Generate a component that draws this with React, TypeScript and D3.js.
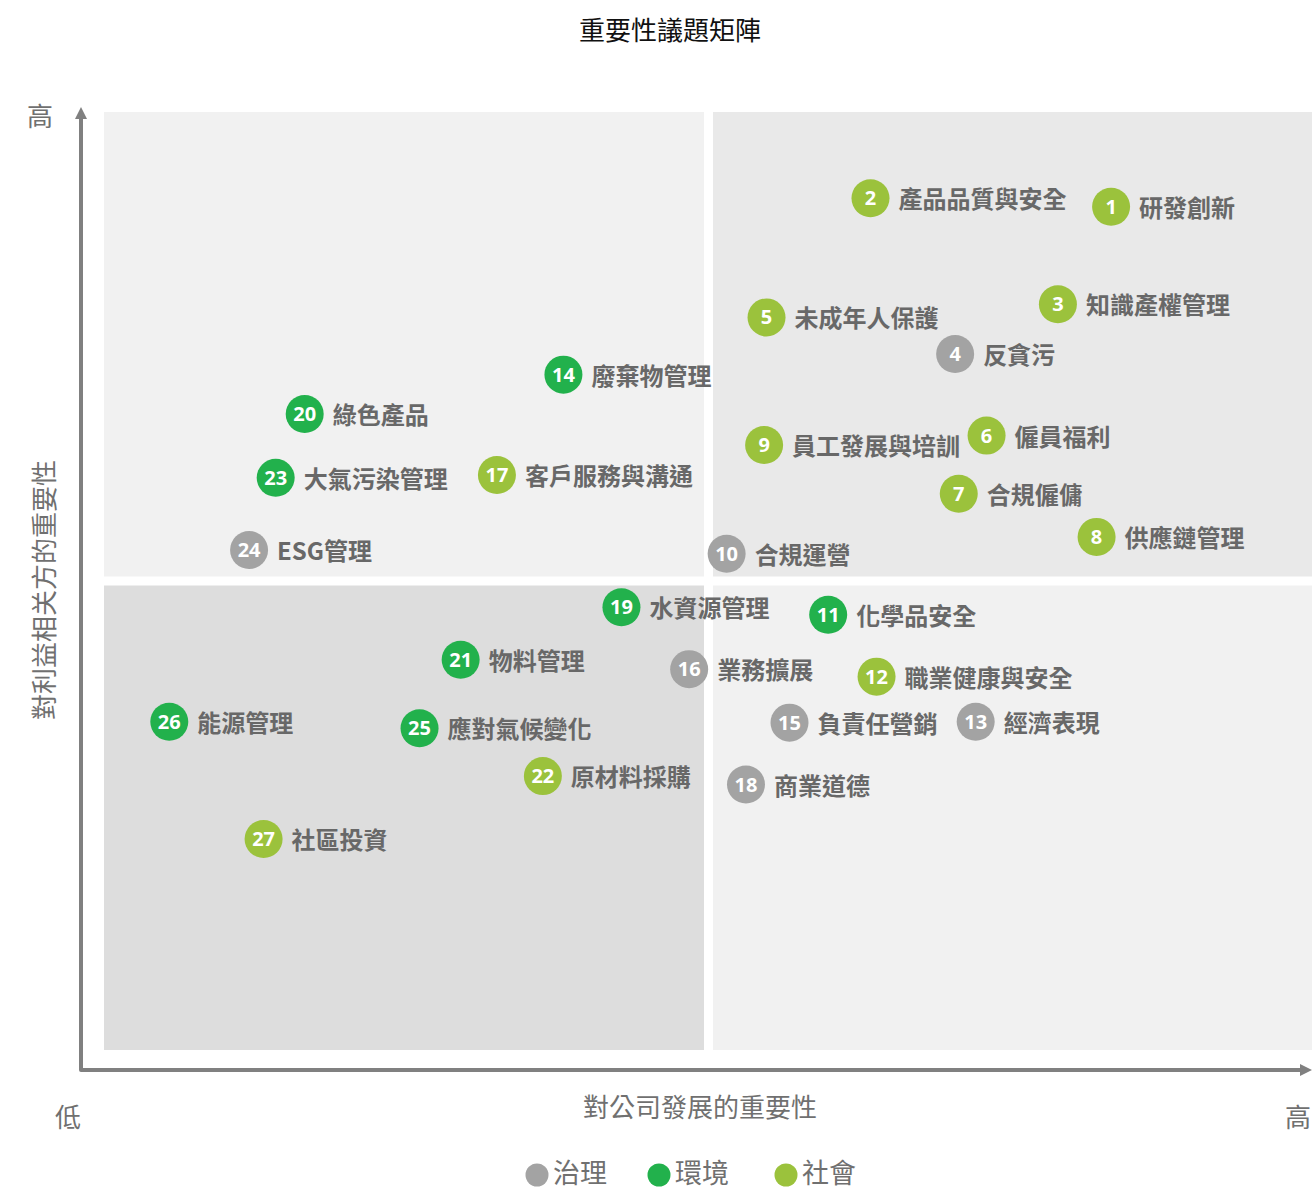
import React from "react";
import * as d3 from "d3";

// issue number, label, category, importance to company (x), importance to stakeholders (y)
const ids = [1, 2, 3, 4, 5, 6, 7, 8, 9, 10, 11, 12, 13, 14, 15, 16, 17, 18, 19, 20, 21, 22, 23, 24, 25, 26, 27];
const labels = [
  "研發創新", "產品品質與安全", "知識產權管理", "反貪污", "未成年人保護", "僱員福利", "合規僱傭",
  "供應鏈管理", "員工發展與培訓", "合規運營", "化學品安全", "職業健康與安全", "經濟表現", "廢棄物管理",
  "負責任營銷", "業務擴展", "客戶服務與溝通", "商業道德", "水資源管理", "綠色產品", "物料管理",
  "原材料採購", "大氣污染管理", "ESG管理", "應對氣候變化", "能源管理", "社區投資",
];
const groups = [
  "社會", "社會", "社會", "治理", "社會", "社會", "社會", "社會", "社會", "治理", "環境", "社會", "治理", "環境",
  "治理", "治理", "社會", "治理", "環境", "環境", "環境", "社會", "環境", "治理", "環境", "環境", "社會",
];
const xValues = [
  83.3, 63.4, 78.9, 70.4, 54.8, 73.0, 70.7, 82.1, 54.6, 51.5, 59.9, 63.9, 72.1, 38.0,
  56.7, 48.4, 32.5, 53.1, 42.8, 16.6, 29.5, 36.3, 14.2, 12.0, 26.1, 5.4, 13.2,
];
const yValues = [
  89.9, 90.8, 79.5, 74.2, 78.1, 65.5, 59.3, 54.7, 64.5, 52.9, 46.4, 39.8, 35.0, 72.0,
  34.9, 40.6, 61.3, 28.3, 47.2, 67.8, 41.6, 29.2, 61.0, 53.3, 34.3, 35.0, 22.5,
];
const legendItems = ["治理", "環境", "社會"];
const groupColors = ["#a3a3a3", "#22b14c", "#9bc23c"];

const W = 1312;
const H = 1190;
const CJK = "'Noto Sans CJK TC', 'Noto Sans CJK SC', sans-serif";

export default function App() {
  const x = d3.scaleLinear().domain([0, 100]).range([104, 1313]);
  const y = d3.scaleLinear().domain([0, 100]).range([1050, 112]);
  const color = d3.scaleOrdinal<string, string>().domain(legendItems).range(groupColors);

  // quadrants, separated by a thin white gap at the mid value
  const gap = 4.5;
  const mx = x(50);
  const my = y(50);
  const quads = [
    { x0: x(0), x1: mx - gap, y0: y(100), y1: my - gap, fill: "#f1f1f1" },
    { x0: mx + gap, x1: x(100), y0: y(100), y1: my - gap, fill: "#e9e9e9" },
    { x0: x(0), x1: mx - gap, y0: my + gap, y1: y(0), fill: "#dddddd" },
    { x0: mx + gap, x1: x(100), y0: my + gap, y1: y(0), fill: "#f1f1f1" },
  ];

  const axisX = 81;
  const axisY = 1070;
  const axisColor = "#808080";

  const points = ids.map((id, i) => ({
    id,
    label: labels[i],
    group: groups[i],
    cx: x(xValues[i]),
    cy: y(yValues[i]),
  }));

  const legendX = [537, 659, 786];

  return (
    <svg width={W} height={H} style={{ position: "absolute", left: 0, top: 0, background: "#fff" }}>
      <text x={670} y={40} textAnchor="middle" fontFamily={CJK} fontSize={26} fill="#111">
        重要性議題矩陣
      </text>

      {quads.map((q, i) => (
        <rect key={i} x={q.x0} y={q.y0} width={q.x1 - q.x0} height={q.y1 - q.y0} fill={q.fill} />
      ))}

      {/* axes */}
      <path
        d={`M${axisX},116 L${axisX},${axisY} L${W - 8},${axisY}`}
        fill="none"
        stroke={axisColor}
        strokeWidth={4}
        strokeLinejoin="round"
      />
      <polygon points={`${axisX},107 ${axisX - 6},119 ${axisX + 6},119`} fill={axisColor} />
      <polygon points={`${W},${axisY} ${W - 12},${axisY - 6} ${W - 12},${axisY + 6}`} fill={axisColor} />

      <text x={40} y={126} textAnchor="middle" fontFamily={CJK} fontSize={26} fill="#707070">高</text>
      <text x={68} y={1127} textAnchor="middle" fontFamily={CJK} fontSize={26} fill="#707070">低</text>
      <text x={1298} y={1127} textAnchor="middle" fontFamily={CJK} fontSize={26} fill="#707070">高</text>
      <text x={700} y={1117} textAnchor="middle" fontFamily={CJK} fontSize={26} fill="#707070">
        對公司發展的重要性
      </text>
      <text
        transform="translate(54,590) rotate(-90)"
        textAnchor="middle"
        fontFamily={CJK}
        fontSize={26}
        fill="#707070"
      >
        對利益相关方的重要性
      </text>

      {points.map((p) => (
        <g key={p.id}>
          <circle cx={p.cx} cy={p.cy} r={19} fill={color(p.group)} />
          <text
            x={p.cx}
            y={p.cy + 7}
            textAnchor="middle"
            fontFamily="'Open Sans', sans-serif"
            fontWeight={700}
            fontSize={20}
            fill="#fff"
          >
            {p.id}
          </text>
          <text
            x={p.cx + 28}
            y={p.cy + 10}
            fontFamily={CJK}
            fontWeight={700}
            fontSize={24}
            fill="#686868"
          >
            {p.label}
          </text>
        </g>
      ))}

      {legendItems.map((g, i) => (
        <g key={g}>
          <circle cx={legendX[i]} cy={1175} r={11.5} fill={color(g)} />
          <text x={legendX[i] + 16} y={1183} fontFamily={CJK} fontSize={27} fill="#707070">
            {g}
          </text>
        </g>
      ))}
    </svg>
  );
}
